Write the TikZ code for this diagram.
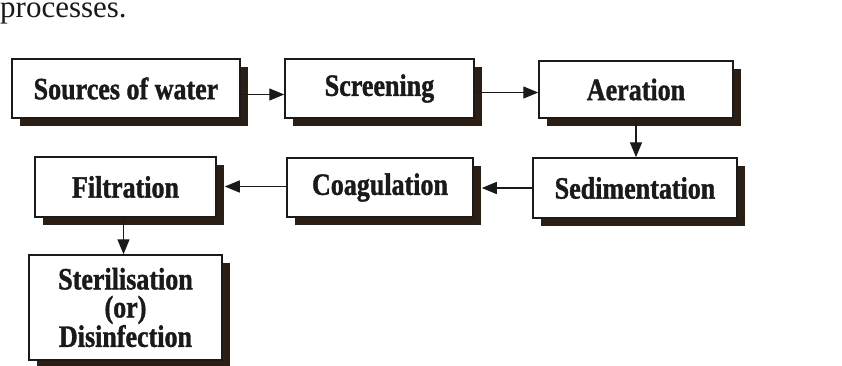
\documentclass[tikz,border=0pt]{standalone}
\usepackage{fontspec}
\setmainfont{Liberation Serif}[FakeStretch=0.84, BoldFeatures={FakeBold=1.2}]
\newfontfamily\bodyfont{Liberation Serif}
\usetikzlibrary{arrows.meta,shadows}
\definecolor{ink}{HTML}{1A1A1A}
\definecolor{shade}{HTML}{2B1E14}
\begin{document}
\begin{tikzpicture}[x=1pt,y=-1pt,
  box/.style={draw=ink, line width=1.5pt, fill=white, inner sep=0pt,
    align=center, font=\fontsize{31}{28}\selectfont\bfseries, text=ink,
    drop shadow={opacity=1, fill=shade, shadow xshift=7.5pt, shadow yshift=-8pt}},
  arr/.style={draw=ink, line width=1.4pt, -{Triangle[length=15pt,width=12pt]}}]
\useasboundingbox (0,0) rectangle (842,365);
\begin{scope}
\clip (0,0) rectangle (842,365);
\node[anchor=base west, inner sep=0pt, font=\fontsize{31}{34}\bodyfont, text=ink] (proc) at (0,17) {processes.};
\end{scope}
\node[box, minimum width=228pt, minimum height=59pt] (src) at (126,88.5) {Sources of water};
\node[box, minimum width=189pt, minimum height=59pt] (scr) at (379.5,88.5) {Screening};
\node[box, minimum width=194pt, minimum height=57pt] (aer) at (636,89.5) {Aeration};
\node[box, minimum width=204pt, minimum height=60pt] (sed) at (635,188) {Sedimentation};
\node[box, minimum width=186pt, minimum height=59pt] (coag) at (380,187.5) {Coagulation};
\node[box, minimum width=181pt, minimum height=60pt] (filt) at (125.5,187) {Filtration};
\node[box, minimum width=193pt, minimum height=105pt] (ster) at (125.5,307.5) {Sterilisation\\(or)\\Disinfection};
\draw[arr] ([yshift=-6pt]src.east) -- ([yshift=-6pt]scr.west);
\draw[arr] ([yshift=-4pt]scr.east) -- ([yshift=-4pt]scr.east -| aer.west);
\draw[arr] (aer.south) -- (aer.south |- sed.north);
\draw[arr] (sed.west) -- ([xshift=8pt]sed.west -| coag.east);
\draw[arr] ([yshift=1pt]coag.west) -- ([xshift=8pt,yshift=1pt]coag.west -| filt.east);
\draw[arr] ([xshift=-2pt]filt.south) -- ([xshift=-2pt]filt.south |- ster.north);
\end{tikzpicture}
\end{document}
